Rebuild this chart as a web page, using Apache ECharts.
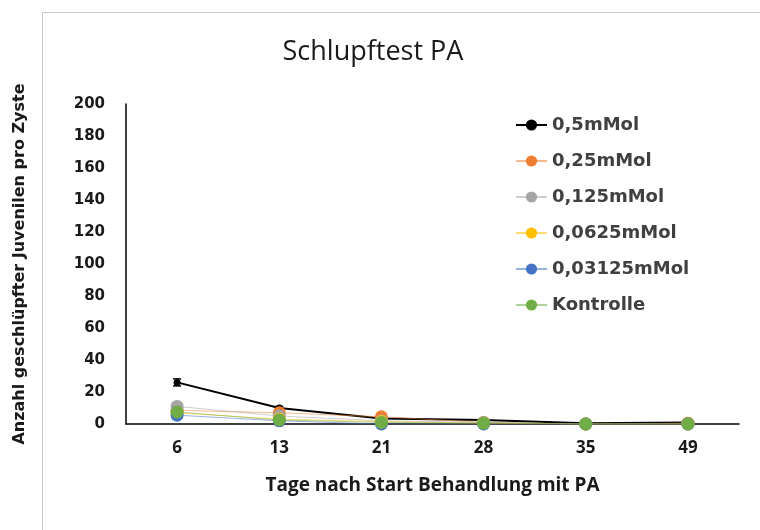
<!DOCTYPE html>
<html>
<head>
<meta charset="utf-8">
<style>
  html, body { margin: 0; padding: 0; background: #ffffff; }
  #chart { width: 760px; height: 530px; }
</style>
<script src="https://cdn.jsdelivr.net/npm/echarts@6/dist/echarts.min.js"></script>
</head>
<body>
<div id="chart"></div>
<script>
// Days after start of treatment
const days = ['6', '13', '21', '28', '35', '49'];

// Hatched juveniles per cyst, one array per concentration
const names = ['0,5mMol', '0,25mMol', '0,125mMol', '0,0625mMol', '0,03125mMol', 'Kontrolle'];
const mMol05 = [26, 10, 3.5, 2.5, 0.5, 1];
const mMol025 = [8.5, 7, 4.5, 1, 0, 0.5];
const mMol0125 = [11, 5, 2, 1, 0, 0];
const mMol00625 = [7, 3, 1.5, 0.5, 0, 0];
const mMol003125 = [5.5, 2, 0, 0, 0, 0];
const kontrolle = [7.5, 2.5, 1, 0.5, 0, 0];

// Standard errors (where visible)
const err05 = [2.2, 1, 0.5, 0.4, 0, 0];
const err0125 = [1.5, 3, 0.5, 0.3, 0, 0];

const colors = ['#000000', '#ED7D31', '#A5A5A5', '#FFC000', '#4472C4', '#70AD47'];
const values = [mMol05, mMol025, mMol0125, mMol00625, mMol003125, kontrolle];

const boldFont = "'DejaVu Sans', Verdana, sans-serif";
const titleFont = "'Open Sans', 'Noto Sans', sans-serif";

function errorSeries(vals, errs, color) {
  return {
    type: 'custom',
    silent: true,
    z: 1,
    data: vals.map((v, i) => [i, v - errs[i], v + errs[i]]),
    renderItem: function (params, api) {
      const lo = api.coord([api.value(0), api.value(1)]);
      const hi = api.coord([api.value(0), api.value(2)]);
      const w = 4;
      const style = { stroke: color, lineWidth: 1.5 };
      return {
        type: 'group',
        children: [
          { type: 'line', shape: { x1: lo[0], y1: lo[1], x2: hi[0], y2: hi[1] }, style: style },
          { type: 'line', shape: { x1: lo[0] - w, y1: lo[1], x2: lo[0] + w, y2: lo[1] }, style: style },
          { type: 'line', shape: { x1: hi[0] - w, y1: hi[1], x2: hi[0] + w, y2: hi[1] }, style: style }
        ]
      };
    }
  };
}

const lineSeries = names.map((n, k) => ({
  name: n,
  type: 'line',
  data: values[k],
  symbol: 'circle',
  symbolSize: k === 0 ? 7 : 13,
  z: 2 + k,
  lineStyle: { color: colors[k], width: k === 0 ? 2 : 1, opacity: k === 0 ? 1 : 0.55 },
  itemStyle: { color: colors[k] }
}));

const chart = echarts.init(document.getElementById('chart'), null, { renderer: 'canvas' });
chart.setOption({
  animation: false,
  backgroundColor: '#ffffff',
  graphic: [{
    type: 'rect',
    shape: { x: 42.5, y: 12.5, width: 800, height: 600 },
    style: { fill: 'none', stroke: '#c8c8c8', lineWidth: 1 },
    silent: true
  }],
  title: {
    text: 'Schlupftest PA',
    left: 368,
    top: 34,
    textAlign: 'center',
    textStyle: { fontFamily: titleFont, fontSize: 27, fontWeight: 'normal', color: '#1a1a1a' }
  },
  legend: {
    orient: 'vertical',
    left: 510,
    top: 111,
    itemWidth: 31,
    itemHeight: 14,
    itemGap: 18,
    data: names,
    textStyle: { fontFamily: boldFont, fontSize: 18, fontWeight: 'bold', color: '#404040' }
  },
  grid: { left: 126, right: 21, top: 104, bottom: 106 },
  xAxis: {
    type: 'category',
    data: days,
    boundaryGap: true,
    axisLine: { lineStyle: { color: '#000000', width: 1.5 } },
    axisTick: { show: false },
    axisLabel: { margin: 16, fontFamily: titleFont, fontSize: 17, fontWeight: 'bold', color: '#1a1a1a' },
    name: 'Tage nach Start Behandlung mit PA',
    nameLocation: 'middle',
    nameGap: 52,
    nameTextStyle: { fontFamily: titleFont, fontSize: 19, fontWeight: 'bold', color: '#1a1a1a' }
  },
  yAxis: {
    type: 'value',
    min: 0,
    max: 200,
    interval: 20,
    axisLine: { show: true, lineStyle: { color: '#000000', width: 1.5 } },
    axisTick: { show: false },
    splitLine: { show: false },
    axisLabel: { margin: 21, fontFamily: boldFont, fontSize: 15, fontWeight: 'bold', color: '#1a1a1a' },
    name: 'Anzahl geschlüpfter Juvenilen pro Zyste',
    nameLocation: 'middle',
    nameGap: 98,
    nameTextStyle: { fontFamily: boldFont, fontSize: 16, fontWeight: 'bold', color: '#1a1a1a' }
  },
  series: [
    errorSeries(mMol05, err05, '#000000'),
    errorSeries(mMol0125, err0125, '#A5A5A5')
  ].concat(lineSeries)
});
</script>
</body>
</html>
